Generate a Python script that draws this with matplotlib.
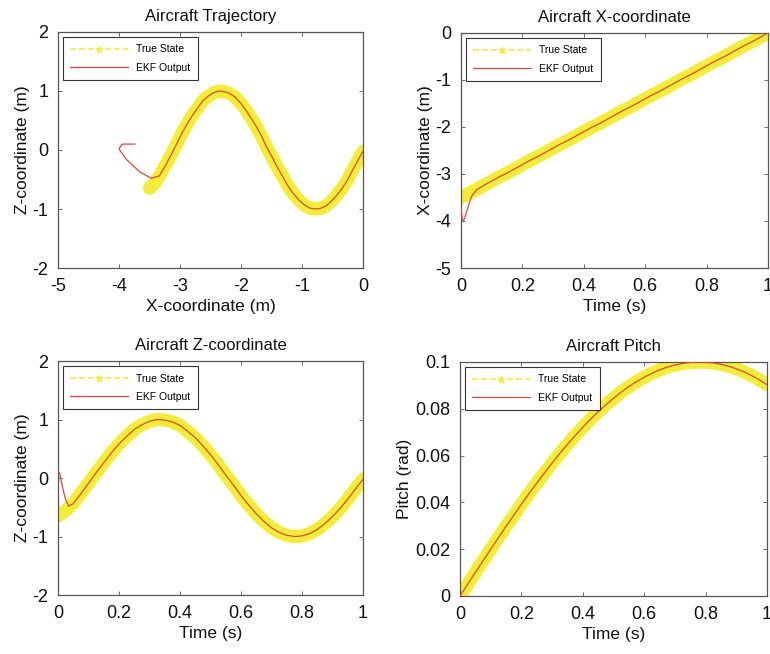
import numpy as np
import matplotlib
matplotlib.use("Agg")
import matplotlib.pyplot as plt
from matplotlib.lines import Line2D

plt.rcParams['font.family'] = ['Liberation Sans', 'DejaVu Sans']

t_true = [0.000, 0.025, 0.050, 0.075, 0.100, 0.125, 0.150, 0.175, 0.200, 0.225,
          0.250, 0.275, 0.300, 0.325, 0.350, 0.375, 0.400, 0.425, 0.450, 0.475,
          0.500, 0.525, 0.550, 0.575, 0.600, 0.625, 0.650, 0.675, 0.700, 0.725,
          0.750, 0.775, 0.800, 0.825, 0.850, 0.875, 0.900, 0.925, 0.950, 0.975, 1.000]
x_true = [-3.50, -3.41, -3.33, -3.24, -3.15, -3.06, -2.98, -2.89, -2.80, -2.71,
          -2.63, -2.54, -2.45, -2.36, -2.28, -2.19, -2.10, -2.01, -1.93, -1.84,
          -1.75, -1.66, -1.58, -1.49, -1.40, -1.31, -1.23, -1.14, -1.05, -0.96,
          -0.88, -0.79, -0.70, -0.61, -0.53, -0.44, -0.35, -0.26, -0.18, -0.09, 0.00]
z_true = [-0.65, -0.56, -0.43, -0.26, -0.09, 0.09, 0.26, 0.43, 0.58, 0.71,
          0.83, 0.91, 0.97, 1.00, 0.99, 0.96, 0.90, 0.80, 0.69, 0.55,
          0.40, 0.23, 0.05, -0.12, -0.30, -0.46, -0.61, -0.74, -0.85, -0.93,
          -0.98, -1.00, -0.99, -0.95, -0.88, -0.78, -0.66, -0.52, -0.36, -0.19, -0.02]
pitch_true = [0.0, 0.0050, 0.0101, 0.0150, 0.0200, 0.0249, 0.0298, 0.0345, 0.0392, 0.0438,
              0.0482, 0.0526, 0.0568, 0.0609, 0.0648, 0.0685, 0.0721, 0.0755, 0.0787, 0.0817,
              0.0845, 0.0871, 0.0895, 0.0916, 0.0935, 0.0952, 0.0966, 0.0978, 0.0987, 0.0994,
              0.0998, 0.1000, 0.0999, 0.0996, 0.0990, 0.0982, 0.0971, 0.0958, 0.0942, 0.0924, 0.0903]

# EKF output: start-up transient, then it sits on the true state
t_ekf = [0.000, 0.004, 0.008, 0.015, 0.025, 0.035, 0.050, 0.075, 0.100, 0.125, 0.150, 0.175, 0.200, 0.225,
         0.250, 0.275, 0.300, 0.325, 0.350, 0.375, 0.400, 0.425, 0.450, 0.475,
         0.500, 0.525, 0.550, 0.575, 0.600, 0.625, 0.650, 0.675, 0.700, 0.725,
         0.750, 0.775, 0.800, 0.825, 0.850, 0.875, 0.900, 0.925, 0.950, 0.975, 1.000]
x_ekf = [-3.74, -3.95, -4.00, -3.88, -3.66, -3.47, -3.34, -3.24, -3.15, -3.06, -2.98, -2.89, -2.80, -2.71,
         -2.63, -2.54, -2.45, -2.36, -2.28, -2.19, -2.10, -2.01, -1.93, -1.84,
         -1.75, -1.66, -1.58, -1.49, -1.40, -1.31, -1.23, -1.14, -1.05, -0.96,
         -0.88, -0.79, -0.70, -0.61, -0.53, -0.44, -0.35, -0.26, -0.18, -0.09, 0.00]
z_ekf = [0.10, 0.10, 0.02, -0.16, -0.37, -0.48, -0.44, -0.27, -0.09, 0.09, 0.26, 0.43, 0.58, 0.71,
         0.83, 0.91, 0.97, 1.00, 0.99, 0.96, 0.90, 0.80, 0.69, 0.55,
         0.40, 0.23, 0.05, -0.12, -0.30, -0.46, -0.61, -0.74, -0.85, -0.93,
         -0.98, -1.00, -0.99, -0.95, -0.88, -0.78, -0.66, -0.52, -0.36, -0.19, -0.02]
pitch_ekf = pitch_true

yellow = '#f3ee35'
red = '#e0453a'

fig = plt.figure(figsize=(7.7, 6.54), dpi=100)

axes_pos = [[0.0753, 0.5902, 0.3961, 0.3609],
            [0.5987, 0.5902, 0.3987, 0.3594],
            [0.0753, 0.0902, 0.3961, 0.3578],
            [0.5974, 0.0887, 0.3987, 0.3578]]

panels = [
    ("Aircraft Trajectory", x_true, z_true, x_ekf, z_ekf,
     "X-coordinate (m)", "Z-coordinate (m)", (-5, 0), (-2, 2), [-5, -4, -3, -2, -1, 0], [-2, -1, 0, 1, 2]),
    ("Aircraft X-coordinate", t_true, x_true, t_ekf, x_ekf,
     "Time (s)", "X-coordinate (m)", (0, 1), (-5, 0), [0, 0.2, 0.4, 0.6, 0.8, 1], [-5, -4, -3, -2, -1, 0]),
    ("Aircraft Z-coordinate", t_true, z_true, t_ekf, z_ekf,
     "Time (s)", "Z-coordinate (m)", (0, 1), (-2, 2), [0, 0.2, 0.4, 0.6, 0.8, 1], [-2, -1, 0, 1, 2]),
    ("Aircraft Pitch", t_true, pitch_true, t_true, pitch_ekf,
     "Time (s)", "Pitch (rad)", (0, 1), (0, 0.1), [0, 0.2, 0.4, 0.6, 0.8, 1], [0, 0.02, 0.04, 0.06, 0.08, 0.1]),
]

def fmt(v):
    return "%g" % v

for pos, (title, xt, yt, xe, ye, xl, yl, xlim, ylim, xticks, yticks) in zip(axes_pos, panels):
    ax = fig.add_axes(pos)
    ax.plot(xt, yt, color=yellow, lw=9.5, solid_capstyle='round', solid_joinstyle='round', zorder=2)
    ax.plot(xe, ye, color=red, lw=0.9, zorder=3)
    ax.set_xlim(*xlim)
    ax.set_ylim(*ylim)
    ax.set_xticks(xticks)
    ax.set_yticks(yticks)
    ax.set_xticklabels([fmt(v) for v in xticks])
    ax.set_yticklabels([fmt(v) for v in yticks])
    ax.tick_params(direction='in', length=3, width=0.6, top=True, right=True,
                   labelsize=13, colors='#555555', labelcolor='#111111', pad=7)
    for s in ax.spines.values():
        s.set_color('#555555')
        s.set_linewidth(0.9)
    ax.set_title(title, fontsize=12, pad=8, color='#111111')
    ax.set_xlabel(xl, fontsize=12.5, color='#111111', labelpad=3)
    ax.set_ylabel(yl, fontsize=12.5, color='#111111', labelpad=2)

    handles = [Line2D([], [], color=yellow, ls='--', lw=1.2, marker='*', markersize=5),
               Line2D([], [], color=red, lw=0.9)]
    leg = ax.legend(handles, ["True State", "EKF Output"], loc='upper left', fontsize=7.5,
                    handlelength=5.5, borderaxespad=0.5, fancybox=False, framealpha=1,
                    edgecolor='#333333', borderpad=0.7, labelspacing=0.8)
    leg.get_frame().set_linewidth(0.8)

fig.savefig("out.png", dpi=100)
